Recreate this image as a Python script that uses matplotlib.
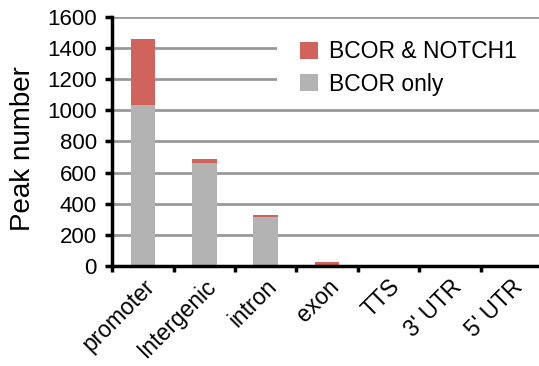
import matplotlib.pyplot as plt
import matplotlib.transforms as mtransforms
from matplotlib.patches import Rectangle
import numpy as np

categories = ["promoter", "Intergenic", "intron", "exon", "TTS", "3' UTR", "5' UTR"]
bcor_only = [1035, 660, 315, 8, 2, 1, 1]
bcor_notch1 = [420, 28, 12, 20, 1, 1, 0]
yticks = [0, 200, 400, 600, 800, 1000, 1200, 1400, 1600]

plt.rcParams['font.family'] = ['Liberation Sans', 'DejaVu Sans']

fig = plt.figure(figsize=(5.39, 3.66), dpi=100)
ax = fig.add_axes([0.208, 0.273, 0.798, 0.681])

x = np.arange(len(categories))
ax.bar(x, bcor_only, width=0.4, color='#b3b3b3', label='BCOR only', zorder=3)
ax.bar(x, bcor_notch1, width=0.4, bottom=bcor_only, color='#d0635c',
       label='BCOR & NOTCH1', zorder=3)

ax.set_xlim(-0.5, len(categories) - 0.5)
ax.set_ylim(0, 1600)
ax.set_yticks(yticks)
ax.set_yticklabels([str(t) for t in yticks], fontsize=16)
ax.set_xticks(np.arange(len(categories) + 1) - 0.5)
ax.set_xticklabels([])
ax.set_xticks(x, minor=True)
ax.set_xticklabels(categories, minor=True, rotation=45, ha='right', va='top',
                   rotation_mode='anchor', fontsize=16.5)
ax.tick_params(axis='x', which='minor', length=0, pad=0)
ax.tick_params(axis='x', which='major', length=4, width=2.5, direction='out')
ax.tick_params(axis='y', length=5, width=2.5, direction='out', pad=6)

# shift category labels a bit down like the original
off = mtransforms.ScaledTranslation(0.0, -0.09, fig.dpi_scale_trans)
for lab in ax.get_xticklabels(minor=True):
    lab.set_transform(lab.get_transform() + off)

ax.grid(axis='y', color='#999999', linewidth=2, zorder=1)
ax.set_axisbelow(True)
for s in ['top', 'right']:
    ax.spines[s].set_visible(False)
for s in ['left', 'bottom']:
    ax.spines[s].set_linewidth(2.5)
    ax.spines[s].set_zorder(4)

ax.set_ylabel('Peak number', fontsize=20)
ax.yaxis.set_label_coords(-0.177, 0.47)

# white box behind the legend hides the grid lines there
blend = mtransforms.blended_transform_factory(ax.transAxes, ax.transData)
ax.add_patch(Rectangle((0.384, 1100), 0.7, 450, transform=blend,
                       facecolor='white', edgecolor='none', zorder=2,
                       clip_on=False))

h, l = ax.get_legend_handles_labels()
leg = ax.legend(h[::-1], l[::-1], loc='center left',
                bbox_to_anchor=(300 / 539, 1 - 68 / 366),
                bbox_transform=fig.transFigure,
                fontsize=16.5, frameon=False,
                handlelength=0.8, handleheight=0.8,
                handletextpad=0.45, labelspacing=0.4, borderpad=0,
                borderaxespad=0)
leg.set_zorder(5)

fig.savefig('out.png', dpi=100)
